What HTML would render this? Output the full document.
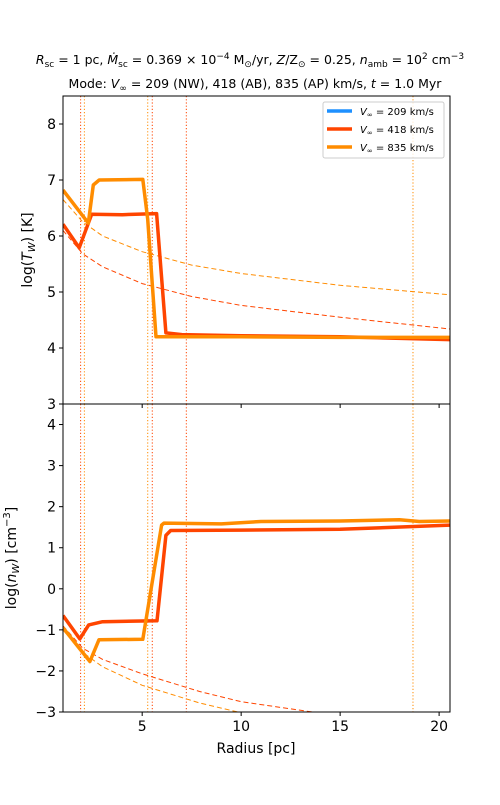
<!DOCTYPE html>
<html><head><meta charset="utf-8"><style>
body{margin:0;background:#fff}
svg{font-family:"DejaVu Sans","Liberation Sans",sans-serif}
</style></head><body>
<svg id="c" width="500" height="800" viewBox="0 0 500 800">
<text x="250" y="64" text-anchor="middle" font-size="12.5"><tspan font-style="italic">R</tspan><tspan font-size="9" dy="3">sc</tspan><tspan dy="-3"> = 1 pc, </tspan><tspan font-style="italic">Ṁ</tspan><tspan font-size="9" dy="3">sc</tspan><tspan dy="-3"> = 0.369 × 10</tspan><tspan font-size="9" dy="-5">−4</tspan><tspan dy="5"> M</tspan><tspan font-size="9" dy="3">⊙</tspan><tspan dy="-3">/yr, </tspan><tspan font-style="italic">Z</tspan>/Z<tspan font-size="9" dy="3">⊙</tspan><tspan dy="-3"> = 0.25, </tspan><tspan font-style="italic">n</tspan><tspan font-size="9" dy="3">amb</tspan><tspan dy="-3"> = 10</tspan><tspan font-size="9" dy="-5">2</tspan><tspan dy="5"> cm</tspan><tspan font-size="9" dy="-5">−3</tspan></text>
<text x="255" y="88" text-anchor="middle" font-size="12.5">Mode: <tspan font-style="italic">V</tspan><tspan font-size="9" dy="3">∞</tspan><tspan dy="-3"> = 209 (NW), 418 (AB), 835 (AP) km/s, </tspan><tspan font-style="italic">t</tspan> = 1.0 Myr</text>
<g id="plot"></g>
<text x="32" y="250" transform="rotate(-90 32 250)" text-anchor="middle" font-size="14">log(<tspan font-style="italic">T</tspan><tspan font-size="10" font-style="italic" dy="3">W</tspan><tspan dy="-3">) [K]</tspan></text>
<text x="16" y="558" transform="rotate(-90 16 558)" text-anchor="middle" font-size="14">log(<tspan font-style="italic">n</tspan><tspan font-size="10" font-style="italic" dy="3">W</tspan><tspan dy="-3">) [cm</tspan><tspan font-size="10" dy="-6">−3</tspan><tspan dy="6">]</tspan></text>
<text x="256" y="753" text-anchor="middle" font-size="14">Radius [pc]</text>
<g>
<rect x="323" y="102" width="121" height="56" fill="#fff" fill-opacity="0.8" stroke="#ccc" stroke-width="1" rx="2"/>
<line x1="327" y1="111" x2="352" y2="111" stroke="#1e90ff" stroke-width="3.5"/>
<text x="360" y="115" font-size="10"><tspan font-style="italic">V</tspan><tspan font-size="7" dy="2">∞</tspan><tspan dy="-2"> = 209 km/s</tspan></text>
<line x1="327" y1="129" x2="352" y2="129" stroke="#ff4500" stroke-width="3.5"/>
<text x="360" y="133" font-size="10"><tspan font-style="italic">V</tspan><tspan font-size="7" dy="2">∞</tspan><tspan dy="-2"> = 418 km/s</tspan></text>
<line x1="327" y1="147" x2="352" y2="147" stroke="#ff8c00" stroke-width="3.5"/>
<text x="360" y="151" font-size="10"><tspan font-style="italic">V</tspan><tspan font-size="7" dy="2">∞</tspan><tspan dy="-2"> = 835 km/s</tspan></text>
</g>
</svg>
<script>
const xTicks=[5,10,15,20];
const yTicksTop=[3,4,5,6,7,8];
const yTicksBot=[-3,-2,-1,0,1,2,3,4];
const vlineX=[1.89,2.08,5.28,5.51,7.23,18.68];
const vlineC=['#ff4500','#ff8c00','#ff8c00','#ff4500','#ff4500','#ff8c00'];
const tRedX=[1,1.82,2.45,4,5.73,6.2,7,10,15,20.55];
const tRedY=[6.21,5.79,6.39,6.38,6.40,4.27,4.24,4.22,4.2,4.15];
const tOrX=[1,2.28,2.53,2.83,5.03,5.28,5.7,10,15,20.55];
const tOrY=[6.82,6.23,6.91,7.0,7.01,6.3,4.2,4.2,4.19,4.19];
const tOrDX=[1,2,3,5,7.5,10,15,20.55];
const tOrDY=[6.65,6.25,6.0,5.72,5.48,5.33,5.12,4.95];
const tRedDX=[1,2,3,5,7.5,10,15,20.55];
const tRedDY=[6.1,5.68,5.45,5.15,4.92,4.76,4.55,4.34];
const nRedX=[1,1.85,2.3,3,5.75,6.2,6.44,10,15,20.55];
const nRedY=[-0.65,-1.22,-0.88,-0.8,-0.78,1.3,1.42,1.43,1.45,1.55];
const nOrX=[1,2.36,2.82,5.03,5.98,6.1,9,11,15,18,19,20.55];
const nOrY=[-0.95,-1.77,-1.24,-1.23,1.55,1.6,1.58,1.64,1.65,1.68,1.64,1.65];
const nOrDX=[1,2,3,5,7.9,10,12];
const nOrDY=[-1.0,-1.55,-1.9,-2.35,-2.78,-3.02,-3.2];
const nRedDX=[1,2,3,5,7.9,10,13.6,15];
const nRedDY=[-0.9,-1.45,-1.72,-2.07,-2.5,-2.75,-3.0,-3.1];
const L=63,R=450,T1=96,B1=404,T2=404,B2=712,XMIN=1,XMAX=20.55;
const sx=v=>L+(v-XMIN)/(XMAX-XMIN)*(R-L);
const sy1=v=>B1-(v-3)/(8.5-3)*(B1-T1);
const sy2=v=>B2-(v+3)/(4.5+3)*(B2-T2);
const NS='http://www.w3.org/2000/svg';
const g=document.getElementById('plot');
function mk(t,a,p){const e=document.createElementNS(NS,t);for(const k in a)e.setAttribute(k,a[k]);(p||g).appendChild(e);return e;}
const defs=mk('defs',{});
const c1=mk('clipPath',{id:'cp1'},defs);mk('rect',{x:L,y:T1,width:R-L,height:B1-T1},c1);
const c2=mk('clipPath',{id:'cp2'},defs);mk('rect',{x:L,y:T2,width:R-L,height:B2-T2},c2);
function path(xs,ys,sy,attrs,clip,name){
  const d=xs.map((x,i)=>(i?'L':'M')+sx(x).toFixed(1)+','+sy(ys[i]).toFixed(1)).join('');
  const e=mk('path',Object.assign({d:d,fill:'none','clip-path':'url(#'+clip+')','stroke-linejoin':'round'},attrs));
  
  
}
vlineX.forEach((v,i)=>{
  [[T1,B1],[T2,B2]].forEach(([a,b],j)=>{
    const e=mk('line',{x1:sx(v),x2:sx(v),y1:a,y2:b,stroke:vlineC[i],'stroke-width':1,'stroke-dasharray':'1.2,2'});
    
    
  });
});
path(tOrDX,tOrDY,sy1,{stroke:'#ff8c00','stroke-width':1,'stroke-dasharray':'5,3'},'cp1','temp-ref-835');
path(tRedDX,tRedDY,sy1,{stroke:'#ff4500','stroke-width':1,'stroke-dasharray':'5,3'},'cp1','temp-ref-418');
path(tRedX,tRedY,sy1,{stroke:'#ff4500','stroke-width':3.5},'cp1','temp-line-418');
path(tOrX,tOrY,sy1,{stroke:'#ff8c00','stroke-width':3.5},'cp1','temp-line-835');
path(nOrDX,nOrDY,sy2,{stroke:'#ff8c00','stroke-width':1,'stroke-dasharray':'5,3'},'cp2','dens-ref-835');
path(nRedDX,nRedDY,sy2,{stroke:'#ff4500','stroke-width':1,'stroke-dasharray':'5,3'},'cp2','dens-ref-418');
path(nRedX,nRedY,sy2,{stroke:'#ff4500','stroke-width':3.5},'cp2','dens-line-418');
path(nOrX,nOrY,sy2,{stroke:'#ff8c00','stroke-width':3.5},'cp2','dens-line-835');
[[T1,B1,'top-panel-frame'],[T2,B2,'bottom-panel-frame']].forEach(([a,b,n])=>{
  const e=mk('rect',{x:L,y:a,width:R-L,height:b-a,fill:'none',stroke:'#000','stroke-width':1});
  
  
});
function ytick(v,sy,name){
  const y=sy(v);
  mk('line',{x1:L-4,x2:L,y1:y,y2:y,stroke:'#000'});
  const t=mk('text',{x:L-7,y:y+5,'text-anchor':'end','font-size':14});
  t.textContent=v<0?'−'+(-v):String(v);
  
  
}
yTicksTop.forEach(v=>ytick(v,sy1,'y-tick-top'));
yTicksBot.forEach(v=>ytick(v,sy2,'y-tick-bottom'));
xTicks.forEach(v=>{
  const x=sx(v);
  mk('line',{x1:x,x2:x,y1:B2,y2:B2+4,stroke:'#000'});
  mk('line',{x1:x,x2:x,y1:B1,y2:B1+4,stroke:'#000'});
  const t=mk('text',{x:x,y:B2+19,'text-anchor':'middle','font-size':14});
  t.textContent=String(v);
  
  
});
</script>
</body></html>
